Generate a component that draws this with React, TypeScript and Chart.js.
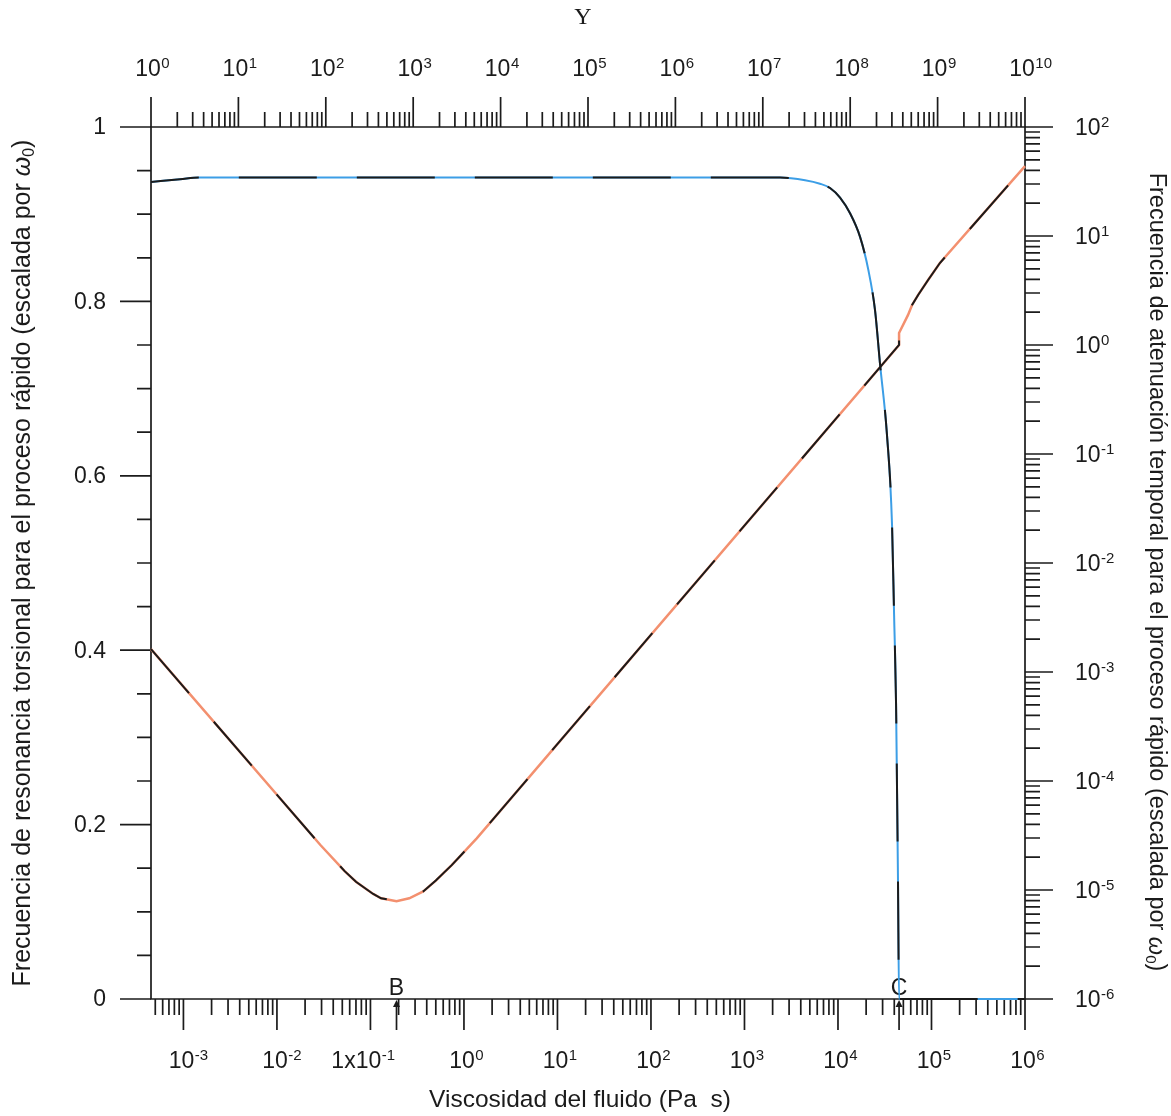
import React, { useEffect, useRef } from "react";
import { Chart, registerables } from "chart.js";

Chart.register(...registerables);

// Bottom axis: fluid viscosity (Pa s), logarithmic
const viscosityMin = 4.5e-4;
const viscosityMax = 1e6;
// Top axis: Υ, logarithmic
const upsilonMin = 1;
const upsilonMax = 1e10;
// Right axis: attenuation frequency range
const attenuationMin = 1e-6;
const attenuationMax = 1e2;

// Torsional resonance frequency of the fast process (scaled by ω0), left axis
const resonanceViscosity = [
  4.5e-4, 9.2e-4, 1.5e-3, 2.4e3, 4446, 6412, 8222, 10520, 13460, 17220, 21130,
  24890, 28120, 33420, 37840, 39810, 41780, 42850, 43850, 45000, 1e6,
];
const resonanceFrequency = [
  0.937, 0.94, 0.942, 0.942, 0.939, 0.935, 0.93, 0.919, 0.901, 0.874, 0.836,
  0.79, 0.729, 0.647, 0.544, 0.441, 0.339, 0.236, 0.133, 0, 0,
];

// Temporal attenuation frequency of the fast process (scaled by ω0), right axis
const attenuationViscosity = [
  4.5e-4, 2.9e-2, 5.3e-2, 0.07, 0.107, 0.13, 0.19, 0.26, 0.367, 0.5, 0.74, 1.37,
  45000, 45000, 56000, 62000, 72000, 92000, 123000, 1e6,
];
const attenuationFrequency = [
  1.62e-3, 2.6e-5, 1.49e-5, 1.19e-5, 9.2e-6, 8.4e-6, 7.9e-6, 8.4e-6, 9.7e-6,
  1.22e-5, 1.69e-5, 2.98e-5, 1.0, 1.29, 1.88, 2.33, 2.88, 3.95, 5.65, 43.7,
];

// Tick labels
const leftTickValues = [0, 0.2, 0.4, 0.6, 0.8, 1];
const leftTickLabels = ["0", "0.2", "0.4", "0.6", "0.8", "1"];
const bottomTickExponents = [-3, -2, -1, 0, 1, 2, 3, 4, 5, 6];
const bottomTickBases = ["10", "10", "1x10", "10", "10", "10", "10", "10", "10", "10"];
const topTickExponents = [0, 1, 2, 3, 4, 5, 6, 7, 8, 9, 10];
const rightTickExponents = [-6, -5, -4, -3, -2, -1, 0, 1, 2];

// Marked viscosities on the bottom axis
const markerLabels = ["B", "C"];
const markerViscosity = [0.19, 45000];

// Axis titles
const bottomTitle = "Viscosidad del fluido (Pa  s)";
const topTitle = "Υ";
const leftTitle = "Frecuencia de resonancia torsional para el proceso rápido (escalada por ";
const rightTitle = "Frecuencia de atenuación temporal para el proceso rápido (escalada por ";

const SANS = '"Liberation Sans", Arial, sans-serif';
const SERIF = '"Liberation Serif", "DejaVu Serif", serif';
const INK = "#1b1b1b";
const BLUE = "#3c9ee6";
const ORANGE = "#f3906f";

type Part = { text: string; size: number; dy: number; italic?: boolean };

function partsWidth(ctx: CanvasRenderingContext2D, parts: Part[]) {
  let w = 0;
  for (const p of parts) {
    ctx.font = `${p.italic ? "italic " : ""}${p.size}px ${SANS}`;
    w += ctx.measureText(p.text).width;
  }
  return w;
}

function drawParts(ctx: CanvasRenderingContext2D, parts: Part[], x: number, y: number) {
  let cx = x;
  for (const p of parts) {
    ctx.font = `${p.italic ? "italic " : ""}${p.size}px ${SANS}`;
    ctx.fillText(p.text, cx, y + p.dy);
    cx += ctx.measureText(p.text).width;
  }
}

function titleParts(text: string, size: number): Part[] {
  return [
    { text, size, dy: 0 },
    { text: "ω", size, dy: 0, italic: true },
    { text: "0", size: Math.round(size * 0.62), dy: size * 0.25 },
    { text: ")", size, dy: 0 },
  ];
}

const TICK_SIZE = 23;
const EXP_SIZE = 15;

// Power-of-ten label; "center" places the "10" over the tick
function drawPower(
  ctx: CanvasRenderingContext2D,
  base: string,
  exp: string,
  anchorX: number,
  baseline: number,
  mode: "center" | "left"
) {
  ctx.textAlign = "left";
  ctx.textBaseline = "alphabetic";
  ctx.font = `${TICK_SIZE}px ${SANS}`;
  const wBase = ctx.measureText(base).width;
  const wTen = ctx.measureText("10").width;
  const x0 = mode === "center" ? anchorX - (wBase - wTen) - wTen / 2 : anchorX;
  ctx.fillText(base, x0, baseline);
  ctx.font = `${EXP_SIZE}px ${SANS}`;
  ctx.fillText(exp, x0 + wBase + 0.5, baseline - 8);
}

function logTicks(min: number, max: number) {
  const out: { v: number; major: boolean }[] = [];
  const e0 = Math.floor(Math.log10(min));
  const e1 = Math.ceil(Math.log10(max));
  for (let e = e0; e <= e1; e++) {
    for (let m = 1; m <= 9; m++) {
      const v = m * Math.pow(10, e);
      if (v >= min * 0.9999 && v <= max * 1.0001) out.push({ v, major: m === 1 });
    }
  }
  return out;
}

const framePlugin = {
  id: "frameAxes",
  beforeDatasetsDraw(chart: any) {
    const ctx: CanvasRenderingContext2D = chart.ctx;
    const { left, right, top, bottom } = chart.chartArea;
    const sx = chart.scales.x;
    const sTop = chart.scales.xTop;
    const sRes = chart.scales.yRes;
    const sAtt = chart.scales.yAtt;
    const MAJOR = 30;
    const MINOR = 15;

    ctx.save();
    ctx.strokeStyle = INK;
    ctx.fillStyle = INK;
    ctx.lineWidth = 1.7;
    ctx.lineCap = "butt";

    // frame
    ctx.beginPath();
    ctx.rect(left, top, right - left, bottom - top);
    ctx.stroke();

    ctx.beginPath();
    // left ticks
    for (let i = 0; i <= 20; i++) {
      const v = i * 0.05;
      const y = sRes.getPixelForValue(v);
      const len = i % 4 === 0 ? MAJOR + 1 : MINOR - 1;
      ctx.moveTo(left, y);
      ctx.lineTo(left - len, y);
    }
    // bottom ticks
    for (const t of logTicks(viscosityMin, viscosityMax)) {
      const x = sx.getPixelForValue(t.v);
      ctx.moveTo(x, bottom);
      ctx.lineTo(x, bottom + (t.major ? MAJOR + 1 : MINOR + 1));
    }
    // top ticks
    for (const t of logTicks(upsilonMin, upsilonMax)) {
      const x = sTop.getPixelForValue(t.v);
      ctx.moveTo(x, top);
      ctx.lineTo(x, top - (t.major ? MAJOR : MINOR));
    }
    // right ticks
    for (const t of logTicks(attenuationMin, attenuationMax)) {
      const y = sAtt.getPixelForValue(t.v);
      ctx.moveTo(right, y);
      ctx.lineTo(right + (t.major ? MAJOR - 2 : MINOR), y);
    }
    ctx.stroke();

    // left labels
    ctx.font = `${TICK_SIZE}px ${SANS}`;
    ctx.textAlign = "right";
    ctx.textBaseline = "middle";
    leftTickValues.forEach((v, i) => {
      ctx.fillText(leftTickLabels[i], left - 45, sRes.getPixelForValue(v) + 1);
    });

    // bottom labels
    bottomTickExponents.forEach((e, i) => {
      const x = sx.getPixelForValue(Math.pow(10, e));
      drawPower(ctx, bottomTickBases[i], String(e), x - 2, bottom + 69, "center");
    });
    // top labels
    topTickExponents.forEach((e) => {
      const x = sTop.getPixelForValue(Math.pow(10, e));
      drawPower(ctx, "10", String(e), x - 3, top - 51, "center");
    });
    // right labels
    rightTickExponents.forEach((e) => {
      const y = sAtt.getPixelForValue(Math.pow(10, e));
      drawPower(ctx, "10", String(e), right + 50, y + 8, "left");
    });

    // B / C markers with arrows
    ctx.textAlign = "center";
    ctx.textBaseline = "alphabetic";
    markerLabels.forEach((label, i) => {
      const x = sx.getPixelForValue(markerViscosity[i]);
      ctx.font = `23px ${SANS}`;
      ctx.fillText(label, x, bottom - 4);
      ctx.beginPath();
      ctx.moveTo(x, bottom + 31);
      ctx.lineTo(x, bottom + 5);
      ctx.stroke();
      ctx.beginPath();
      ctx.moveTo(x, bottom + 1);
      ctx.lineTo(x - 3.5, bottom + 8);
      ctx.lineTo(x + 3.5, bottom + 8);
      ctx.closePath();
      ctx.fill();
    });

    // titles
    ctx.textAlign = "left";
    ctx.textBaseline = "middle";
    ctx.font = `24.5px ${SANS}`;
    const bw = ctx.measureText(bottomTitle).width;
    ctx.fillText(bottomTitle, 580 - bw / 2, 1100);

    ctx.font = `24px ${SERIF}`;
    ctx.textAlign = "center";
    ctx.fillText(topTitle, 583, 18);
    ctx.textAlign = "left";

    const lp = titleParts(leftTitle, 25);
    const lw = partsWidth(ctx, lp);
    ctx.save();
    ctx.translate(23, 563);
    ctx.rotate(-Math.PI / 2);
    drawParts(ctx, lp, -lw / 2, 0);
    ctx.restore();

    const rp = titleParts(rightTitle, 23.5);
    const rw = partsWidth(ctx, rp);
    ctx.save();
    ctx.translate(1156, 572);
    ctx.rotate(Math.PI / 2);
    drawParts(ctx, rp, -rw / 2, 0);
    ctx.restore();

    ctx.restore();
  },
};

const pts = (xs: number[], ys: number[]) => xs.map((x, i) => ({ x, y: ys[i] }));

export default function App() {
  const canvasRef = useRef<HTMLCanvasElement | null>(null);

  useEffect(() => {
    const canvas = canvasRef.current;
    if (!canvas) return;
    const common = { pointRadius: 0, fill: false, clip: 6, xAxisID: "x" };
    const smooth = { tension: 0.4, cubicInterpolationMode: "monotone" };
    const chart = new Chart(canvas, {
      type: "line",
      data: {
        datasets: [
          {
            ...common,
            ...smooth,
            label: "resonancia (trazos)",
            data: pts(resonanceViscosity, resonanceFrequency),
            yAxisID: "yRes",
            borderColor: INK,
            borderWidth: 2,
            borderDash: [78, 40],
            borderDashOffset: 30,
            order: 0,
          },
          {
            ...common,
            tension: 0,
            label: "atenuación (trazos)",
            data: pts(attenuationViscosity, attenuationFrequency),
            yAxisID: "yAtt",
            borderColor: INK,
            borderWidth: 2,
            borderDash: [58, 38],
            borderDashOffset: 0,
            order: 0,
          },
          {
            ...common,
            ...smooth,
            label: "resonancia",
            data: pts(resonanceViscosity, resonanceFrequency),
            yAxisID: "yRes",
            borderColor: BLUE,
            borderWidth: 2,
            order: 1,
          },
          {
            ...common,
            tension: 0,
            label: "atenuación",
            data: pts(attenuationViscosity, attenuationFrequency),
            yAxisID: "yAtt",
            borderColor: ORANGE,
            borderWidth: 2.5,
            order: 1,
          },
        ] as any,
      },
      options: {
        responsive: false,
        animation: false,
        events: [],
        layout: { padding: { left: 151, right: 146, top: 127, bottom: 117 } },
        plugins: { legend: { display: false }, tooltip: { enabled: false } },
        scales: {
          x: { type: "logarithmic", min: viscosityMin, max: viscosityMax, display: false },
          xTop: { type: "logarithmic", axis: "x", position: "top", min: upsilonMin, max: upsilonMax, display: false },
          yRes: { type: "linear", position: "left", min: 0, max: 1, display: false },
          yAtt: { type: "logarithmic", position: "right", min: attenuationMin, max: attenuationMax, display: false },
        } as any,
      },
      plugins: [framePlugin],
    });
    return () => chart.destroy();
  }, []);

  return (
    <div style={{ position: "absolute", left: 0, top: 0, width: 1171, height: 1116, background: "#fff" }}>
      <canvas ref={canvasRef} width={1171} height={1116} style={{ display: "block" }} />
    </div>
  );
}
